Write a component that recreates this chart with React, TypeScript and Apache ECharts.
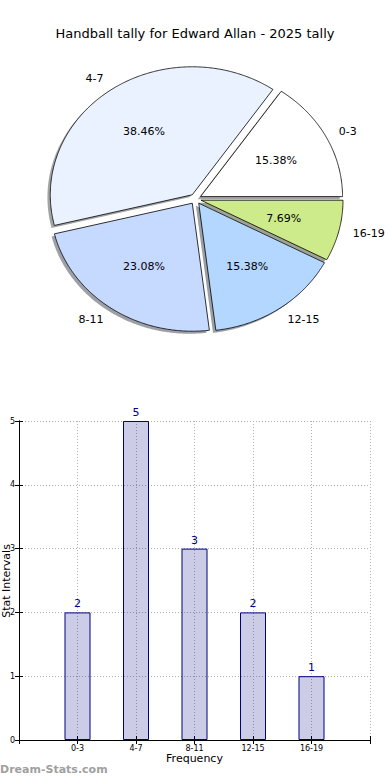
import React, { useEffect, useRef } from "react";
import * as echarts from "echarts";

const titleText = "Handball tally for Edward Allan - 2025 tally";
const categories = ["0-3", "4-7", "8-11", "12-15", "16-19"];
const counts = [2, 5, 3, 2, 1];
const pieColors = ["#ffffff", "#eaf2ff", "#c6d9ff", "#b3d7ff", "#cdeb8b"];
const xAxisName = "Frequency";
const yAxisName = "Stat Intervals";
const watermark = "Dream-Stats.com";

const FONT = "DejaVu Sans";
const PCX = 195.5;
const PCY = 199;
const RX = 142;
const RY = 128;
const EXPLODE = 0.04;
const RAD = Math.PI / 180;

function hexToRgb(h: string) {
  const n = parseInt(h.slice(1), 16);
  return [(n >> 16) & 255, (n >> 8) & 255, n & 255];
}

export default function App() {
  const ref = useRef<HTMLDivElement>(null);
  useEffect(() => {
    if (!ref.current) return;
    const chart = echarts.init(ref.current, undefined, { renderer: "svg" });
    const total = counts.reduce((a, b) => a + b, 0);
    const cum: number[] = [];
    let acc = 0;
    counts.forEach((c) => {
      cum.push(acc);
      acc += (c / total) * 360;
    });
    const pieData = counts.map((c, i) => [c, i]);

    const geom = (i: number, v: number) => {
      const a1 = cum[i];
      const a2 = a1 + (v / total) * 360;
      const mid = ((a1 + a2) / 2) * RAD;
      const ox = EXPLODE * Math.cos(mid);
      const oy = -EXPLODE * Math.sin(mid);
      return { a1, a2, mid, ox, oy };
    };

    const wedgePoints = (g: any, dx: number, dy: number) => {
      const cx = PCX + g.ox * RX + dx;
      const cy = PCY + g.oy * RY + dy;
      const pts: number[][] = [[cx, cy]];
      const n = Math.max(2, Math.ceil((g.a2 - g.a1) / 0.5));
      for (let k = 0; k <= n; k++) {
        const a = (g.a1 + ((g.a2 - g.a1) * k) / n) * RAD;
        pts.push([cx + RX * Math.cos(a), cy - RY * Math.sin(a)]);
      }
      return pts;
    };

    const shadowRender = (params: any, api: any) => {
      const i = params.dataIndex;
      const v = api.value(0);
      const g = geom(i, v);
      const [r, gg, b] = hexToRgb(pieColors[i]);
      return {
        type: "polygon",
        shape: { points: wedgePoints(g, -0.02 * RX, 0.02 * RY) },
        style: {
          fill: `rgba(${Math.round(r * 0.3)},${Math.round(gg * 0.3)},${Math.round(b * 0.3)},0.5)`,
        },
      };
    };

    const sliceRender = (params: any, api: any) => {
      const i = params.dataIndex;
      const v = api.value(0);
      const g = geom(i, v);
      const cosm = Math.cos(g.mid);
      const sinm = Math.sin(g.mid);
      const lx = PCX + (g.ox + 1.1 * cosm) * RX;
      const ly = PCY + (g.oy - 1.1 * sinm) * RY;
      const px = PCX + (g.ox + 0.6 * cosm) * RX;
      const py = PCY + (g.oy - 0.6 * sinm) * RY;
      return {
        type: "group",
        children: [
          {
            type: "polygon",
            shape: { points: wedgePoints(g, 0, 0) },
            style: { fill: pieColors[i], stroke: "#000", lineWidth: 0.8, lineJoin: "miter" },
          },
          {
            type: "text",
            x: px,
            y: py,
            style: {
              text: ((v / total) * 100).toFixed(2) + "%",
              align: "center",
              verticalAlign: "middle",
              fontSize: 11,
              fontFamily: FONT,
              fill: "#000",
            },
          },
          {
            type: "text",
            x: lx,
            y: ly,
            style: {
              text: categories[i],
              align: cosm >= 0 ? "left" : "right",
              verticalAlign: "middle",
              fontSize: 11,
              fontFamily: FONT,
              fill: "#000",
            },
          },
        ],
      };
    };

    const dotted = { show: true, lineStyle: { type: [1, 2] as any, color: "#b0b0b0", width: 1 } };

    chart.setOption({
      animation: false,
      title: {
        text: titleText,
        left: "center",
        top: 22,
        textStyle: { fontSize: 13, fontWeight: "normal", color: "#000", fontFamily: FONT },
      },
      grid: { left: 19, right: 20, top: 421, bottom: 40, containLabel: false, outerBoundsMode: "none" },
      xAxis: [
        {
          type: "value",
          min: 0,
          max: 6,
          interval: 1,
          name: xAxisName,
          nameLocation: "middle",
          nameGap: 13,
          nameTextStyle: { fontSize: 11, fontFamily: FONT, color: "#000" },
          axisLine: { show: true, lineStyle: { color: "#000", width: 1 } },
          axisTick: { show: true, inside: true, length: 4, lineStyle: { color: "#000" } },
          axisLabel: {
            fontSize: 8,
            fontFamily: FONT,
            color: "#000",
            margin: 4,
            formatter: (v: number) => categories[v - 1] ?? "",
          },
          splitLine: dotted,
        },
        {
          type: "value",
          position: "top",
          min: 0,
          max: 6,
          interval: 1,
          axisLine: { show: true, lineStyle: { color: "#000", width: 1 } },
          axisTick: { show: true, inside: true, length: 4, lineStyle: { color: "#000" } },
          axisLabel: { show: false },
          splitLine: { show: false },
        },
      ],
      yAxis: [
        {
          type: "value",
          min: 0,
          max: 5,
          interval: 1,
          axisLine: { show: true, lineStyle: { color: "#000", width: 1 } },
          axisTick: { show: true, inside: true, length: 4, lineStyle: { color: "#000" } },
          axisLabel: { fontSize: 8, fontFamily: FONT, color: "#000", margin: 4 },
          splitLine: dotted,
        },
        {
          type: "value",
          position: "right",
          min: 0,
          max: 5,
          interval: 1,
          axisLine: { show: true, lineStyle: { color: "#000", width: 1 } },
          axisTick: { show: true, inside: true, length: 4, lineStyle: { color: "#000" } },
          axisLabel: { show: false },
          splitLine: { show: false },
        },
      ],
      graphic: [
        {
          type: "text",
          x: 6,
          y: 581,
          rotation: Math.PI / 2,
          style: {
            text: yAxisName,
            align: "center",
            verticalAlign: "middle",
            fontSize: 11,
            fontFamily: FONT,
            fill: "#000",
          },
        },
        {
          type: "text",
          left: 0,
          top: 764,
          style: {
            text: watermark,
            fontSize: 11,
            fontWeight: "bold",
            fontFamily: FONT,
            fill: "#a0a0a0",
          },
        },
      ],
      series: [
        {
          type: "bar",
          xAxisIndex: 0,
          yAxisIndex: 0,
          data: counts.map((c, i) => [i + 1, c]),
          barWidth: 26,
          itemStyle: { color: "rgba(0,0,128,0.2)", borderColor: "#000080", borderWidth: 1 },
          label: {
            show: true,
            position: "top",
            distance: 3,
            fontSize: 11,
            fontFamily: FONT,
            color: "#000080",
            formatter: (p: any) => String(p.value[1]),
          },
          z: 3,
        },
        {
          type: "custom",
          coordinateSystem: "none",
          data: pieData,
          renderItem: shadowRender,
          z: 1,
          silent: true,
        },
        {
          type: "custom",
          coordinateSystem: "none",
          data: pieData,
          renderItem: sliceRender,
          z: 2,
        },
      ],
    });
    return () => chart.dispose();
  }, []);
  return (
    <div
      ref={ref}
      style={{ position: "absolute", left: 0, top: 0, width: 390, height: 780, background: "#fff" }}
    />
  );
}
